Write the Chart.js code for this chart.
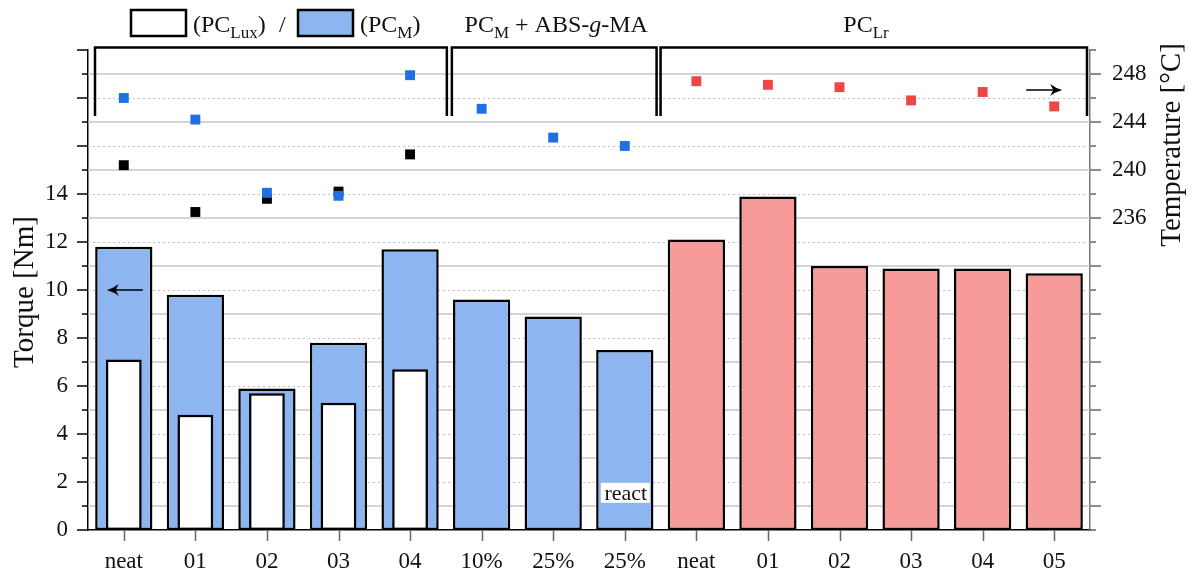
<!DOCTYPE html>
<html>
<head>
<meta charset="utf-8">
<script src="https://cdn.jsdelivr.net/npm/chart.js@4/dist/chart.umd.min.js"></script>
<style>
  html, body { margin: 0; padding: 0; background: #fff; }
  #wrap { width: 1192px; height: 574px; }
</style>
</head>
<body>
<div id="wrap"><canvas id="chart" width="1192" height="574"></canvas></div>
<script>
// x axis sample names
var labels = ['neat', '01', '02', '03', '04', '10%', '25%', '25%', 'neat', '01', '02', '03', '04', '05'];

// torque [Nm] (bars)
var torqueLux = [7.1, 4.8, 5.7, 5.3, 6.7, null, null, null, null, null, null, null, null, null];
var torqueM = [11.8, 9.8, 5.9, 7.8, 11.7, 9.6, 8.9, 7.5, null, null, null, null, null, null];
var torqueLr = [null, null, null, null, null, null, null, null, 12.1, 13.9, 11.0, 10.9, 10.9, 10.7];

// temperature [°C] (squares)
var tempLux = [240.4, 236.5, 237.6, 238.2, 241.3, null, null, null, null, null, null, null, null, null];
var tempM = [246.0, 244.2, 238.1, 237.85, 247.9, 245.1, 242.7, 242.0, null, null, null, null, null, null];
var tempLr = [null, null, null, null, null, null, null, null, 247.4, 247.1, 246.9, 245.8, 246.5, 245.3];

// group brackets over the samples
var groups = [
  { from: 0, to: 4, inL: 7, inR: -1 },
  { from: 5, to: 7, inL: 6, inR: 4 },
  { from: 8, to: 13, inL: 0, inR: 3 }
];

var FONT = "'Liberation Serif', 'Times New Roman', serif";

function runsFont(kind) {
  if (kind === 'sub') return '17px ' + FONT;
  if (kind === 'it') return 'italic 24px ' + FONT;
  return '24px ' + FONT;
}

// draw text pieces with subscripts / italics
function drawRuns(ctx, runs, x, y, center) {
  var w = 0;
  runs.forEach(function(r) { ctx.font = runsFont(r[1]); w += ctx.measureText(r[0]).width; });
  var cx = center ? x - w / 2 : x;
  runs.forEach(function(r) {
    ctx.font = runsFont(r[1]);
    ctx.fillText(r[0], cx, r[1] === 'sub' ? y + 6 : y);
    cx += ctx.measureText(r[0]).width;
  });
  return cx;
}

function arrow(ctx, x1, x2, y) {
  var dir = x2 > x1 ? 1 : -1;
  ctx.beginPath();
  ctx.moveTo(x1, y);
  ctx.lineTo(x2 - dir * 4, y);
  ctx.stroke();
  ctx.beginPath();
  ctx.moveTo(x2, y);
  ctx.quadraticCurveTo(x2 - dir * 7, y - 2, x2 - dir * 12, y - 6);
  ctx.lineTo(x2 - dir * 9, y);
  ctx.lineTo(x2 - dir * 12, y + 6);
  ctx.quadraticCurveTo(x2 - dir * 7, y + 2, x2, y);
  ctx.fill();
}

var extras = {
  id: 'extras',
  beforeDatasetsDraw: function(chart) {
    var ctx = chart.ctx, a = chart.chartArea;
    var y = chart.scales.y, y2 = chart.scales.y2;
    ctx.save();
    // dotted lines on torque majors
    ctx.strokeStyle = '#c2c2c2';
    ctx.lineWidth = 1;
    ctx.setLineDash([2, 3]);
    for (var v = 2; v < 20; v += 2) {
      var py = Math.round(y.getPixelForValue(v)) + 0.5;
      ctx.beginPath(); ctx.moveTo(a.left, py); ctx.lineTo(a.right, py); ctx.stroke();
    }
    // solid lines on temperature majors
    ctx.setLineDash([]);
    ctx.strokeStyle = '#c6c6c6';
    ctx.lineWidth = 1.5;
    for (var t = 212; t < 250; t += 4) {
      var pt = y2.getPixelForValue(t);
      ctx.beginPath(); ctx.moveTo(a.left, pt); ctx.lineTo(a.right, pt); ctx.stroke();
    }
    ctx.restore();
  },
  afterDatasetsDraw: function(chart) {
    var ctx = chart.ctx, a = chart.chartArea;
    var x = chart.scales.x, y = chart.scales.y, y2 = chart.scales.y2;
    var half = (x.getPixelForValue(1) - x.getPixelForValue(0)) / 2;
    ctx.save();

    // brackets
    ctx.strokeStyle = '#000';
    ctx.lineWidth = 2.5;
    var top = y2.getPixelForValue(250.2), bot = y2.getPixelForValue(244.5);
    groups.forEach(function(g) {
      var l = x.getPixelForValue(g.from) - half + g.inL;
      var r = x.getPixelForValue(g.to) + half - g.inR;
      ctx.beginPath();
      ctx.moveTo(l, bot); ctx.lineTo(l, top); ctx.lineTo(r, top); ctx.lineTo(r, bot);
      ctx.stroke();
    });

    // axis arrows
    ctx.fillStyle = '#000';
    ctx.lineWidth = 1.5;
    var cx0 = x.getPixelForValue(0);
    arrow(ctx, cx0 + 19, cx0 - 17, y.getPixelForValue(10));
    var cx13 = x.getPixelForValue(13);
    arrow(ctx, cx13 - 28, cx13 + 8, y2.getPixelForValue(246.67));

    // react label
    var rx = x.getPixelForValue(7), ry = y.getPixelForValue(1.55);
    ctx.fillStyle = '#fff';
    ctx.fillRect(rx - 24, ry - 10, 49, 20);
    ctx.fillStyle = '#111';
    ctx.font = '22px ' + FONT;
    ctx.textAlign = 'center';
    ctx.textBaseline = 'middle';
    ctx.fillText('react', rx + 1, ry + 1);
    ctx.restore();
  },
  afterDraw: function(chart) {
    var ctx = chart.ctx, a = chart.chartArea;
    var x = chart.scales.x, y = chart.scales.y, y2 = chart.scales.y2;
    ctx.save();
    ctx.lineWidth = 1.5;

    // tick marks
    ctx.strokeStyle = '#000';
    y.ticks.forEach(function(t) {
      var py = y.getPixelForValue(t.value);
      var len = t.value % 2 === 0 ? 11 : 6;
      ctx.beginPath(); ctx.moveTo(a.left - len, py); ctx.lineTo(a.left, py); ctx.stroke();
    });
    ctx.strokeStyle = '#666';
    y2.ticks.forEach(function(t) {
      var py = y2.getPixelForValue(t.value);
      var len = t.value % 4 === 0 ? 11 : 6;
      ctx.beginPath(); ctx.moveTo(a.right, py); ctx.lineTo(a.right + len, py); ctx.stroke();
    });
    x.ticks.forEach(function(t, i) {
      var px = Math.round(x.getPixelForValue(i)) + 0.5;
      ctx.beginPath(); ctx.moveTo(px, a.bottom); ctx.lineTo(px, a.bottom + 11); ctx.stroke();
    });

    // axis titles
    ctx.fillStyle = '#111';
    ctx.font = '29px ' + FONT;
    ctx.textAlign = 'center';
    ctx.textBaseline = 'middle';
    ctx.save();
    ctx.translate(25, (a.top + a.bottom) / 2 + 2);
    ctx.rotate(-Math.PI / 2);
    ctx.fillText('Torque [Nm]', 0, 0);
    ctx.restore();
    ctx.save();
    ctx.translate(1172, 145);
    ctx.rotate(-Math.PI / 2);
    ctx.fillText('Temperature [\u00B0C]', 0, 0);
    ctx.restore();

    // legend
    ctx.textAlign = 'left';
    ctx.textBaseline = 'alphabetic';
    ctx.lineWidth = 2.5;
    ctx.strokeStyle = '#000';
    ctx.fillStyle = '#fff';
    ctx.fillRect(131, 10, 55, 26);
    ctx.strokeRect(131, 10, 55, 26);
    ctx.fillStyle = '#8db6f0';
    ctx.fillRect(298, 10, 55, 26);
    ctx.strokeRect(298, 10, 55, 26);
    ctx.fillStyle = '#111';
    drawRuns(ctx, [['(PC', ''], ['Lux', 'sub'], [')', '']], 193, 32, false);
    drawRuns(ctx, [['/', '']], 279, 32, false);
    drawRuns(ctx, [['(PC', ''], ['M', 'sub'], [')', '']], 360, 32, false);

    // group titles
    var g2 = (x.getPixelForValue(5) + x.getPixelForValue(7)) / 2 + 3;
    drawRuns(ctx, [['PC', ''], ['M', 'sub'], [' + ABS-', ''], ['g', 'it'], ['-MA', '']], g2, 32, true);
    drawRuns(ctx, [['PC', ''], ['Lr', 'sub']], 866, 32, true);
    ctx.restore();
  }
};

var tickFont = { family: FONT, size: 23 };

var chart = new Chart(document.getElementById('chart'), {
  data: {
    labels: labels,
    datasets: [
      {
        type: 'line', label: 'T PC_M', data: tempM, yAxisID: 'y2', order: 0,
        showLine: false, pointStyle: 'rect', pointRadius: 7, pointBorderWidth: 0,
        pointBackgroundColor: '#1f70e0', borderColor: '#1f70e0'
      },
      {
        type: 'line', label: 'T PC_Lux', data: tempLux, yAxisID: 'y2', order: 1,
        showLine: false, pointStyle: 'rect', pointRadius: 7, pointBorderWidth: 0,
        pointBackgroundColor: '#000', borderColor: '#000'
      },
      {
        type: 'line', label: 'T PC_Lr', data: tempLr, yAxisID: 'y2', order: 1,
        showLine: false, pointStyle: 'rect', pointRadius: 7, pointBorderWidth: 0,
        pointBackgroundColor: '#f04545', borderColor: '#f04545'
      },
      {
        type: 'bar', label: 'PC_Lux', data: torqueLux, yAxisID: 'y', order: 2,
        grouped: false, barPercentage: 0.5, categoryPercentage: 1,
        backgroundColor: '#fff', borderColor: '#000', borderWidth: 2.5, borderSkipped: false
      },
      {
        type: 'bar', label: 'PC_M', data: torqueM, yAxisID: 'y', order: 3,
        grouped: false, barPercentage: 0.8, categoryPercentage: 1,
        backgroundColor: '#8db6f0', borderColor: '#000', borderWidth: 2.5, borderSkipped: false
      },
      {
        type: 'bar', label: 'PC_Lr', data: torqueLr, yAxisID: 'y', order: 3,
        grouped: false, barPercentage: 0.8, categoryPercentage: 1,
        backgroundColor: '#f69a9a', borderColor: '#000', borderWidth: 2.5, borderSkipped: false
      }
    ]
  },
  options: {
    responsive: false,
    animation: false,
    events: [],
    layout: { padding: { top: 50, left: 0, right: 0, bottom: 0 } },
    plugins: { legend: { display: false }, tooltip: { enabled: false } },
    scales: {
      x: {
        type: 'category',
        offset: true,
        grid: { display: false },
        border: { display: true, color: '#000', width: 1.5 },
        ticks: { font: tickFont, color: '#111', padding: 10, maxRotation: 0, autoSkip: false },
        afterFit: function(s) { s.height = 44; }
      },
      y: {
        position: 'left',
        min: 0, max: 20,
        grid: { display: false },
        border: { display: true, color: '#000', width: 1.5 },
        ticks: {
          stepSize: 1, autoSkip: false, font: tickFont, color: '#111', padding: 12,
          callback: function(v) { return (v % 2 === 0 && v <= 14) ? String(v) : ''; }
        },
        afterFit: function(s) { s.width = 88; }
      },
      y2: {
        position: 'right',
        min: 210, max: 250,
        grid: { display: false },
        border: { display: true, color: '#777', width: 1.5 },
        ticks: {
          stepSize: 2, autoSkip: false, font: tickFont, color: '#111', padding: 14,
          callback: function(v) { return (v % 4 === 0 && v >= 236) ? String(v) : ''; }
        },
        afterFit: function(s) { s.width = 102; }
      }
    }
  },
  plugins: [extras]
});
</script>
</body>
</html>
